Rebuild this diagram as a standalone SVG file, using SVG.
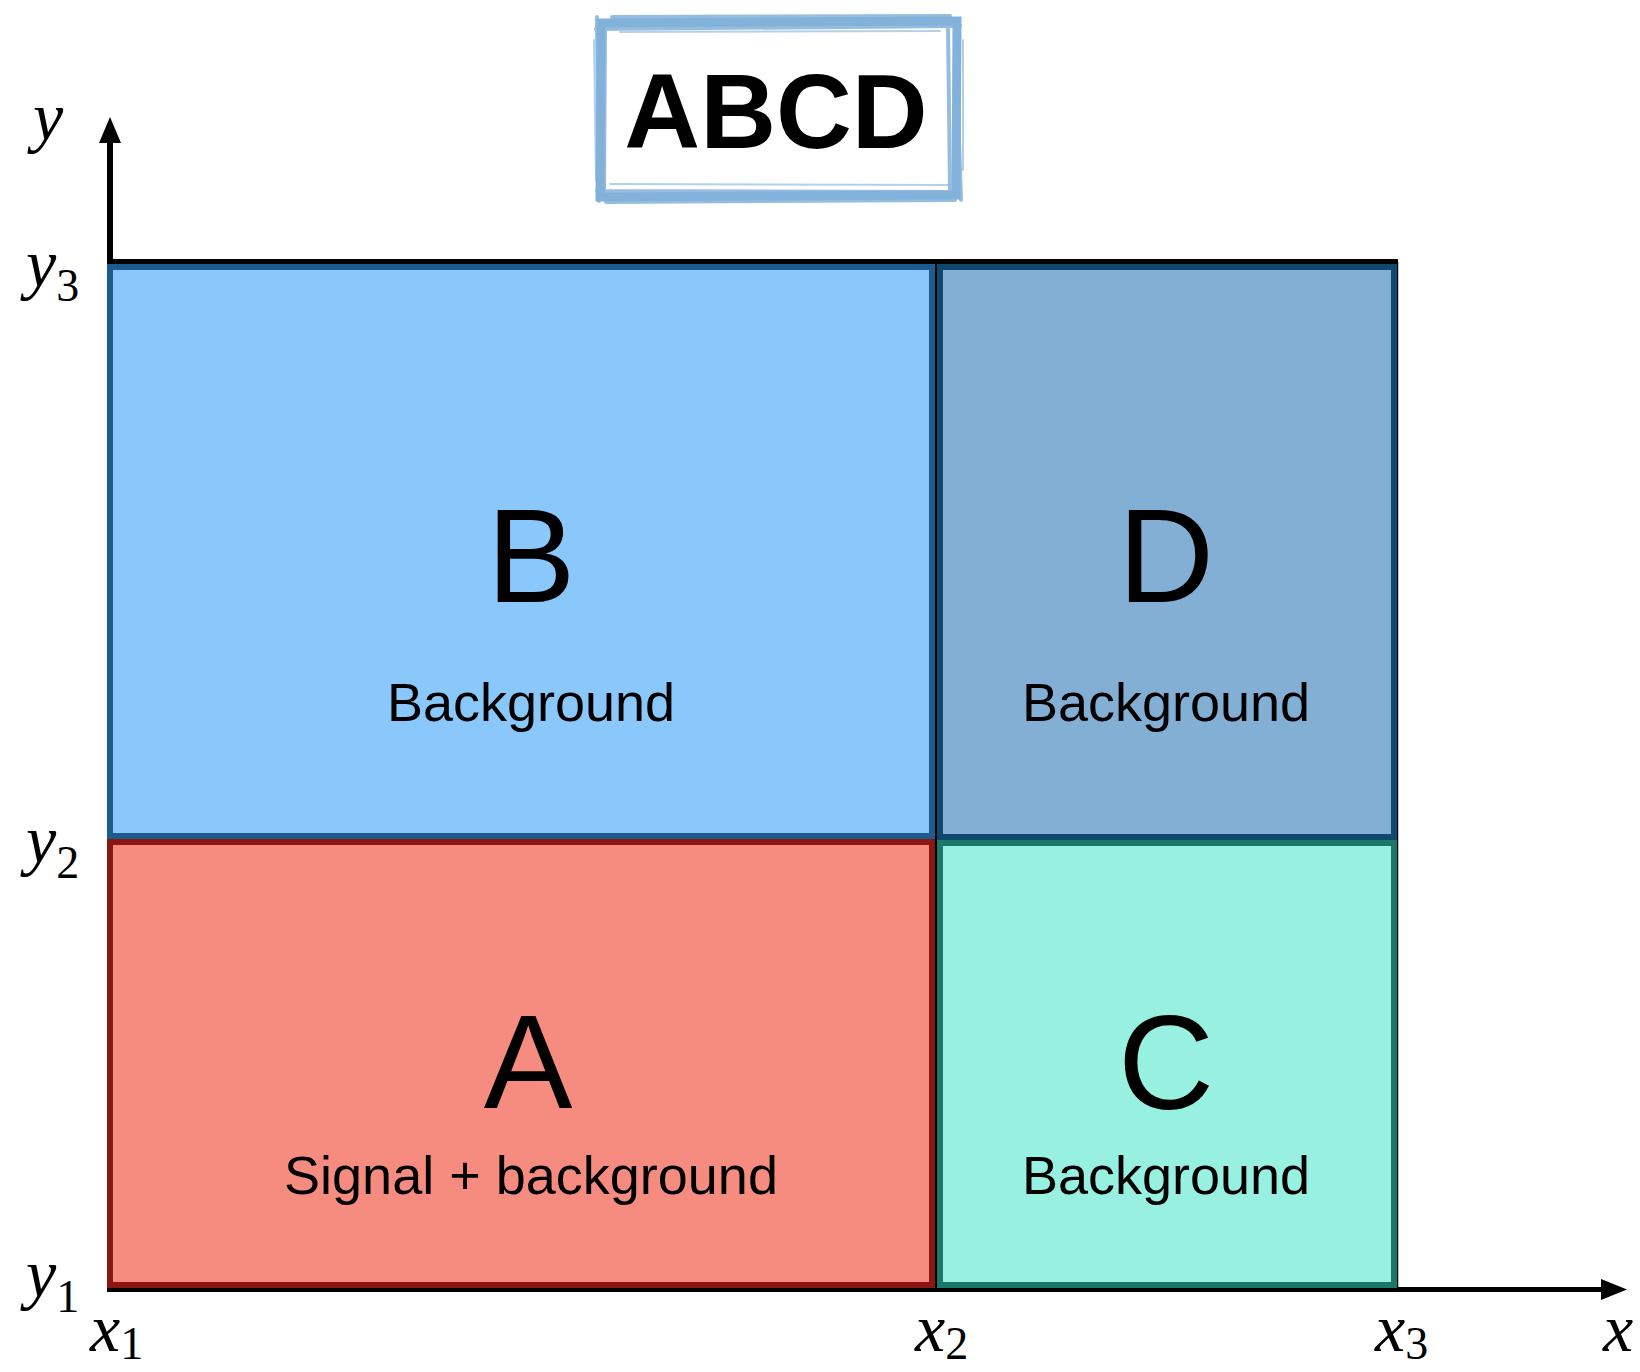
<svg xmlns="http://www.w3.org/2000/svg" width="1640" height="1372" viewBox="0 0 1640 1372">
<style>
.lbl{font-family:"Liberation Sans",Arial,sans-serif;fill:#000;text-anchor:middle}
.big{font-size:133px}
.sub{font-size:54px}
.ax{font-family:"Liberation Serif","Times New Roman",serif;font-style:italic;font-size:68px;fill:#000}
.ss{font-style:normal;font-size:46px}
.frame{fill:none;stroke:#82B1DA;stroke-linecap:round}
.axis{stroke:#000;fill:none}
</style>
<rect width="1640" height="1372" fill="#fff"/>

<g id="title">
  <path class="frame" stroke-width="9" d="M601 23 L957 21 L956 195 L600 197 Z"/>
  <path class="frame" stroke-width="4" opacity="0.85" d="M596 29 L960 26 M612 17 L950 16 M597 17 L599 201 M605 30 L604 190 M955 22 L961 200 M948 28 L950 190 M597 191 L961 192 M606 202 L955 200"/>
  <path class="frame" stroke-width="2" opacity="0.6" d="M594 40 L596 180 M620 32 L940 31 M610 184 L950 185 M963 40 L963 170"/>
  <text class="lbl" x="776" y="148" font-size="105" font-weight="bold">ABCD</text>
</g>

<g id="connectors">
  <line class="axis" x1="110" y1="1292" x2="110" y2="138" stroke-width="6"/>
  <polygon points="110,117 99,143 121,143" fill="#000"/>
  <line class="axis" x1="107" y1="1289.5" x2="1605" y2="1289.5" stroke-width="5"/>
  <polygon points="1627,1289.5 1601,1279 1601,1300" fill="#000"/>
  <line class="axis" x1="107" y1="261.5" x2="1398" y2="261.5" stroke-width="5"/>
  <line class="axis" x1="1397.5" y1="262" x2="1397.5" y2="1290" stroke-width="1.5"/>
  <line class="axis" x1="936" y1="262" x2="936" y2="1290" stroke-width="2"/>
</g>

<g id="B">
  <rect x="110" y="267" width="822" height="569" fill="#8AC8FC" stroke="#1E5C8F" stroke-width="6"/>
  <text class="lbl big" x="531" y="602">B</text>
  <text class="lbl sub" x="531" y="721">Background</text>
</g>
<g id="D">
  <rect x="940" y="267" width="454" height="570" fill="#83AFD5" stroke="#0F486F" stroke-width="6"/>
  <text class="lbl big" x="1166" y="602">D</text>
  <text class="lbl sub" x="1166" y="721">Background</text>
</g>
<g id="A">
  <rect x="110" y="842" width="822" height="443" fill="#F68B80" stroke="#8A1711" stroke-width="6"/>
  <text class="lbl big" x="528" y="1108">A</text>
  <text class="lbl" x="531" y="1194" font-size="54">Signal + background</text>
</g>
<g id="C">
  <rect x="940" y="843" width="454" height="442" fill="#97F0E0" stroke="#1C7868" stroke-width="6"/>
  <text class="lbl big" x="1166" y="1109">C</text>
  <text class="lbl sub" x="1166" y="1194">Background</text>
</g>

<g id="axis-labels">
  <text class="ax" x="33" y="140">y</text>
  <text class="ax" x="26" y="287">y<tspan class="ss" dy="14">3</tspan></text>
  <text class="ax" x="26" y="863">y<tspan class="ss" dy="15">2</tspan></text>
  <text class="ax" x="26" y="1297">y<tspan class="ss" dy="15">1</tspan></text>
  <text class="ax" x="90" y="1351">x<tspan class="ss" dy="8">1</tspan></text>
  <text class="ax" x="915" y="1351">x<tspan class="ss" dy="8">2</tspan></text>
  <text class="ax" x="1375" y="1351">x<tspan class="ss" dy="8">3</tspan></text>
  <text class="ax" x="1603" y="1351">x</text>
</g>
</svg>
